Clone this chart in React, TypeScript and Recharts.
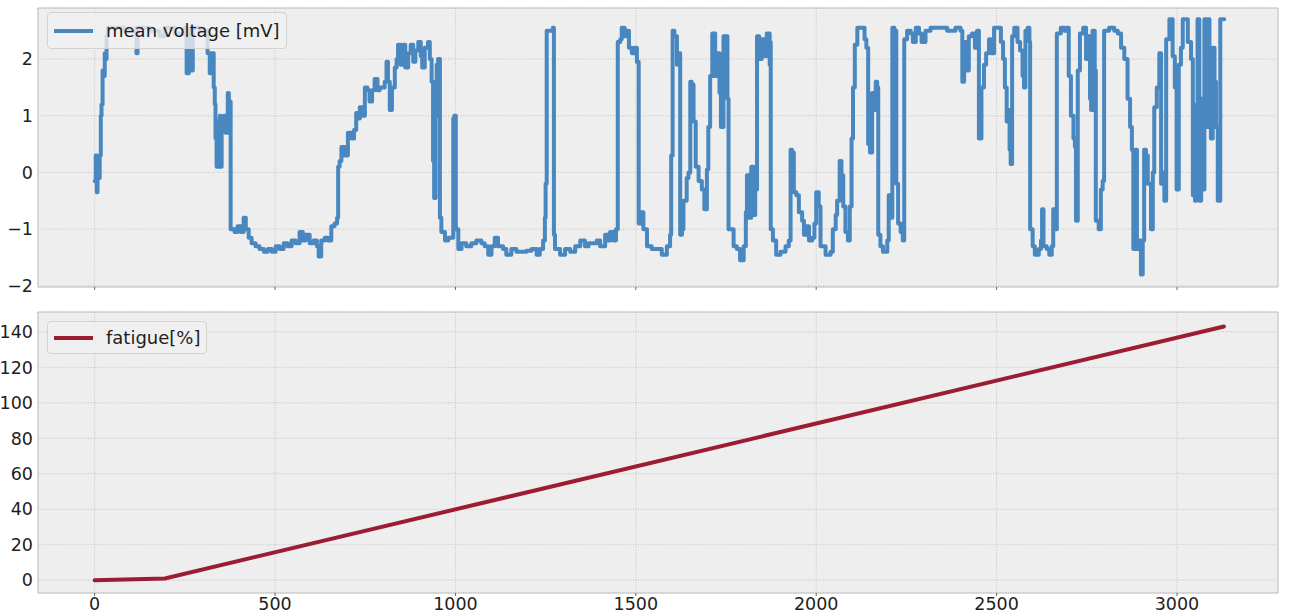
import React from 'react';
import { LineChart, Line, XAxis, YAxis, CartesianGrid, ReferenceArea } from 'recharts';

const voltageTime = [
  0, 3, 6, 8, 11, 14, 17, 19, 22, 25, 28, 30, 33, 36, 55, 83, 114, 116, 119, 152, 180, 194, 222, 250, 255, 261, 266, 272, 291, 311, 313, 319, 324, 330, 333, 335, 338, 341, 344, 347, 349, 352, 358, 363, 369, 372, 374, 377, 388, 396, 405, 413, 419, 427, 435, 446, 457, 469, 480, 491, 502, 513, 524, 535, 546, 557, 568, 577, 585, 596, 607, 616,
  621, 628, 638, 647, 656, 665, 672, 675, 679, 684, 693, 702, 712, 719, 725, 730, 735, 744, 749, 756, 762, 769, 776, 784, 790, 799, 804, 809, 813, 818, 824, 832, 837, 841, 848, 855, 861, 869, 876, 883, 889, 897, 904, 908, 915, 924, 929, 934, 938, 941, 945, 948, 952, 957, 961, 971, 980, 989, 994, 997, 1001, 1008, 1017, 1030, 1044, 1058, 1072, 1081, 1091, 1100, 1109, 1118, 1132, 1141, 1155, 1169, 1183, 1197, 1211, 1225, 1234, 1243,
  1248, 1250, 1253, 1270, 1273, 1276, 1290, 1304, 1318, 1332, 1346, 1359, 1369, 1383, 1392, 1401, 1415, 1424, 1429, 1438, 1445, 1450, 1457, 1461, 1469, 1475, 1481, 1489, 1496, 1503, 1508, 1515, 1521, 1531, 1544, 1558, 1572, 1586, 1595, 1598, 1602, 1607, 1614, 1618, 1623, 1628, 1632, 1641, 1646, 1651, 1655, 1660, 1666, 1674, 1683, 1690, 1697, 1701, 1706, 1712, 1720, 1726, 1732, 1736, 1743, 1750, 1754, 1757, 1771, 1780, 1789, 1799, 1805, 1808, 1813, 1820, 1826, 1831, 1836, 1842, 1849, 1857, 1863, 1871,
  1872, 1874, 1880, 1889, 1901, 1915, 1924, 1929, 1933, 1938, 1945, 1952, 1961, 1966, 1972, 1980, 1989, 1995, 2000, 2007, 2012, 2026, 2040, 2046, 2054, 2058, 2065, 2070, 2075, 2081, 2088, 2093, 2098, 2102, 2107, 2114, 2127, 2134, 2139, 2144, 2149, 2155, 2160, 2165, 2169, 2172, 2178, 2185, 2197, 2201, 2206, 2211, 2217, 2222, 2227, 2234, 2240, 2244, 2252, 2262, 2268, 2276, 2285, 2292, 2303, 2317, 2340, 2363, 2386, 2400, 2405, 2410, 2416, 2423, 2432, 2440, 2446, 2451, 2458, 2465, 2471, 2479, 2485, 2493,
  2503, 2512, 2518, 2523, 2528, 2532, 2536, 2539, 2543, 2549, 2558, 2565, 2572, 2576, 2580, 2586, 2591, 2593, 2600, 2606, 2617, 2623, 2626, 2630, 2639, 2646, 2653, 2657, 2663, 2667, 2678, 2688, 2694, 2700, 2706, 2713, 2717, 2720, 2725, 2731, 2740, 2748, 2754, 2759, 2762, 2766, 2772, 2775, 2783, 2789, 2794, 2798, 2812, 2826, 2836, 2845, 2854, 2863, 2870, 2875, 2879, 2884, 2889, 2896, 2900, 2905, 2909, 2914, 2919, 2928, 2933, 2937, 2944, 2951, 2956, 2960, 2965, 2970, 2979, 2988, 2994, 2999, 3005, 3011, 3016, 3025, 3030, 3039, 3044, 3050, 3053, 3057, 3062, 3067, 3071, 3076, 3080, 3085, 3090, 3094, 3099, 3104, 3108, 3113, 3117, 3120, 3131,
];

const voltageMv = [
  -0.15, 0.3, -0.35, 0.25, -0.1, 0.3, 1.0, 1.2, 1.8, 1.7, 2.1, 2.0, 2.4, 2.55, 2.55, 2.5, 2.55, 2.1, 2.55, 2.5, 2.4, 2.55, 2.45, 2.55, 1.75, 2.5, 1.8, 2.55, 2.5, 2.5, 2.1, 1.75, 2.1, 1.5, 1.2, 0.6, 0.1, 0.9, 0.2, 1.0, 0.1, 0.9, 1.0, 0.7, 1.4, 0.8, 1.25, -1.0, -1.05, -0.95, -1.05, -0.8, -1.0, -1.15, -1.25, -1.3, -1.35, -1.4, -1.35, -1.4, -1.3, -1.35, -1.25, -1.3, -1.2, -1.25, -1.05, -1.2, -1.1, -1.25, -1.2, -1.3,
  -1.48, -1.2, -1.15, -1.2, -0.95, -0.9, -0.8, 0.1, 0.2, 0.45, 0.3, 0.7, 0.6, 0.75, 1.05, 0.95, 1.15, 1.0, 1.5, 1.45, 1.25, 1.45, 1.65, 1.45, 1.5, 1.5, 1.6, 1.95, 1.6, 1.1, 1.5, 1.85, 2.0, 2.25, 1.9, 2.25, 1.85, 2.1, 2.25, 1.95, 2.15, 2.3, 2.05, 1.85, 2.2, 2.3, 2.0, 1.6, 0.2, -0.45, 1.0, 1.9, 2.0, -0.8, -1.05, -1.2, -1.15, -1.15, 0.95, 1.0, -1.0, -1.35, -1.25, -1.3, -1.25, -1.2, -1.25, -1.3, -1.45, -1.3, -1.15, -1.3, -1.35, -1.45, -1.35, -1.4, -1.4, -1.38, -1.35, -1.45, -1.35, -1.2,
  -0.8, -0.2, 2.5, 2.55, -1.1, -1.35, -1.45, -1.35, -1.4, -1.3, -1.2, -1.3, -1.25, -1.25, -1.2, -1.3, -1.1, -1.2, -1.05, -1.2, -1.0, 2.3, 2.35, 2.55, 2.4, 2.5, 2.2, 2.1, 2.2, 1.95, -0.9, -0.7, -1.0, -1.3, -1.35, -1.35, -1.45, -1.3, -1.1, 0.3, 2.5, 2.4, 1.9, 2.1, -1.1, -1.0, -0.5, -0.1, 0.0, 1.6, 1.55, 0.9, 0.1, -0.15, -0.3, -0.65, 0.05, 0.8, 1.7, 2.45, 1.7, 2.1, 1.4, 0.8, 2.4, 2.4, 1.3, -1.0, -1.3, -1.35, -1.55, -1.3, -0.7, -0.05, -0.8, 0.1, -0.75, -0.3, 2.4, 2.0, 2.35, 2.05, 2.45, 1.9,
  2.3, -1.0, -1.2, -1.45, -1.4, -1.3, -1.2, 0.4, 0.35, -0.35, -0.4, -0.7, -0.85, -1.1, -0.95, -1.2, -1.15, -0.9, -0.35, -0.6, -1.3, -1.45, -1.4, -1.0, -0.75, -0.5, 0.2, -0.05, -0.6, -1.05, -1.2, -0.6, 0.6, 1.5, 2.25, 2.55, 2.55, 2.35, 2.2, 0.5, 0.35, 1.4, 1.1, 1.6, 1.5, -1.1, -1.3, -1.4, -1.2, -0.4, -0.8, 2.55, 2.5, -0.2, -0.9, -1.05, -1.2, 2.35, 2.5, 2.45, 2.3, 2.55, 2.45, 2.3, 2.5, 2.55, 2.55, 2.5, 2.55, 2.5, 1.6, 2.3, 1.8, 2.4, 2.45, 2.2, 2.5, 0.6, 1.5, 1.9, 2.1, 2.35, 2.1, 2.55,
  2.55, 2.3, 2.0, 1.5, 0.9, 1.1, 0.4, 0.15, 2.4, 2.55, 2.3, 2.15, 1.7, 1.5, 2.5, 2.55, 2.3, -1.0, -1.3, -1.45, -1.35, -1.2, -0.65, -1.3, -1.35, -1.45, -1.3, -0.65, -1.0, 2.45, 2.55, 2.5, 2.55, 1.7, 1.0, 0.6, 0.45, -0.85, 1.8, 2.45, 2.55, 2.0, 2.4, 1.3, 1.1, 2.5, 1.8, -0.85, -1.0, -0.3, -0.15, 2.5, 2.55, 2.5, 2.45, 2.2, 2.0, 1.3, 0.8, 0.4, -1.35, 0.4, -1.35, -1.2, -1.8, -1.2, 0.4, 0.3, -0.2, -1.0, 0.0, 1.15, 1.5, 2.1, -0.2, 0.0, -0.5, 2.35, 2.7, 2.05, 1.5, -0.3, 1.9, 2.2, 2.7, 2.7, 2.3, 2.0, -0.4, -0.5, 1.2, 2.7, -0.5, 1.3, -0.3, 2.7, 0.8, 2.7, 1.0, 0.6, 2.2, 1.6, 0.8, -0.5, -0.5, 2.7, 2.7,
];

const fatigueTime = [0, 195, 3130];
const fatiguePct = [0, 1, 143];

const xTicks = [0, 500, 1000, 1500, 2000, 2500, 3000];
const voltageTicks = [-2, -1, 0, 1, 2];
const fatigueTicks = [0, 20, 40, 60, 80, 100, 120, 140];

const voltageData = voltageTime.map((t, i) => ({ t, v: voltageMv[i] }));
const fatigueData = fatigueTime.map((t, i) => ({ t, f: fatiguePct[i] }));

const FONT = '"DejaVu Sans", sans-serif';
const TICK_COLOR = '#1e1e1e';
const BLUE = '#4887bf';
const RED = '#9c1c31';
const X_DOMAIN: [number, number] = [-157, 3280];
const V_DOMAIN: [number, number] = [-2.02, 2.9];
const F_DOMAIN: [number, number] = [-7.2, 151.2];

const fmt = (v: number) => String(v).replace('-', '\u2212');

const tickStyle = { fontFamily: FONT, fontSize: 17.5, fill: TICK_COLOR };

function LegendBox(props: { top: number; width: number; height: number; color: string; label: string }) {
  const { top, width, height, color, label } = props;
  return (
    <div
      style={{
        position: 'absolute',
        left: 47,
        top,
        width,
        height,
        boxSizing: 'border-box',
        background: 'rgba(240,240,240,0.8)',
        border: '1px solid #d2d2d2',
        borderRadius: 4,
        fontFamily: FONT,
        fontSize: 18,
        color: '#1e1e1e',
      }}
    >
      <div
        style={{
          position: 'absolute',
          left: 6,
          top: height / 2 - 2.5,
          width: 39,
          height: 4,
          background: color,
        }}
      />
      <div style={{ position: 'absolute', left: 58, top: height / 2 - 12, lineHeight: '22px', whiteSpace: 'nowrap' }}>
        {label}
      </div>
    </div>
  );
}

export default function App() {
  return (
    <div style={{ position: 'absolute', left: 0, top: 0, width: 1303, height: 616, background: '#ffffff' }}>
      <div style={{ position: 'absolute', left: 0, top: 0 }}>
        <LineChart width={1303} height={300} data={voltageData} margin={{ top: 8, right: 25, bottom: 0, left: 8 }}>
          <CartesianGrid fill="#eeeeee" stroke="#c4c4c4" strokeDasharray="1 1.5" />
          <XAxis
            type="number"
            dataKey="t"
            domain={X_DOMAIN}
            ticks={xTicks}
            allowDataOverflow
            height={13}
            axisLine={false}
            tickSize={3}
            tickLine={{ stroke: '#666' }}
            tickFormatter={() => ''}
          />
          <YAxis
            type="number"
            domain={V_DOMAIN}
            ticks={voltageTicks}
            allowDataOverflow
            width={30}
            axisLine={false}
            tickLine={false}
            tickSize={0}
            tickMargin={5}
            tick={tickStyle}
            tickFormatter={fmt}
          />
          <ReferenceArea x1={X_DOMAIN[0]} x2={X_DOMAIN[1]} y1={V_DOMAIN[0]} y2={V_DOMAIN[1]} fill="none" stroke="#c2c2c2" strokeWidth={1} ifOverflow="visible" />
          <Line type="stepAfter" dataKey="v" stroke={BLUE} strokeWidth={4} dot={false} isAnimationActive={false} strokeLinejoin="round" strokeLinecap="round" />
        </LineChart>
      </div>
      <div style={{ position: 'absolute', left: 0, top: 300 }}>
        <LineChart width={1303} height={316} data={fatigueData} margin={{ top: 12, right: 25, bottom: 0, left: 8 }}>
          <CartesianGrid fill="#eeeeee" stroke="#c4c4c4" strokeDasharray="1 1.5" />
          <XAxis
            type="number"
            dataKey="t"
            domain={X_DOMAIN}
            ticks={xTicks}
            allowDataOverflow
            height={23}
            axisLine={false}
            tickSize={3}
            tickLine={{ stroke: '#666' }}
            tickMargin={2}
            tick={tickStyle}
          />
          <YAxis
            type="number"
            domain={F_DOMAIN}
            ticks={fatigueTicks}
            allowDataOverflow
            width={30}
            axisLine={false}
            tickLine={false}
            tickSize={0}
            tickMargin={5}
            tick={tickStyle}
            tickFormatter={fmt}
          />
          <ReferenceArea x1={X_DOMAIN[0]} x2={X_DOMAIN[1]} y1={F_DOMAIN[0]} y2={F_DOMAIN[1]} fill="none" stroke="#c2c2c2" strokeWidth={1} ifOverflow="visible" />
          <Line type="linear" dataKey="f" stroke={RED} strokeWidth={4} dot={false} isAnimationActive={false} strokeLinecap="round" />
        </LineChart>
      </div>
      <LegendBox top={12} width={240} height={37} color={BLUE} label="mean voltage [mV]" />
      <LegendBox top={321} width={160} height={33} color={RED} label="fatigue[%]" />
    </div>
  );
}
